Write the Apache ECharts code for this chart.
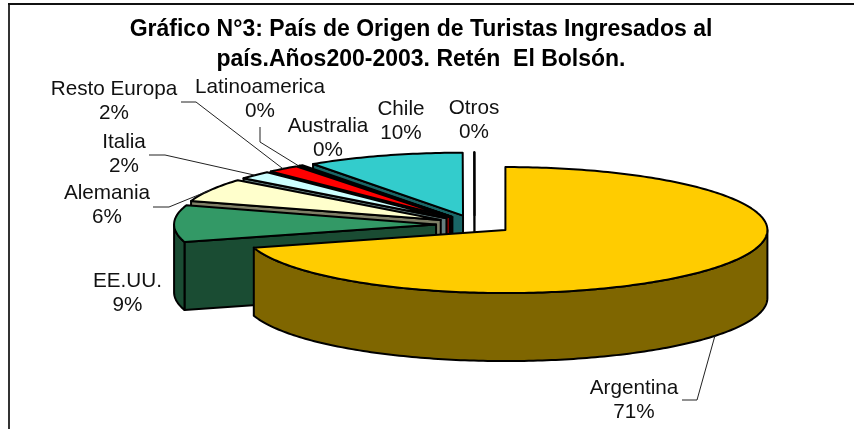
<!DOCTYPE html>
<html>
<head>
<meta charset="utf-8">
<style>html,body{margin:0;padding:0;background:#fff}#c{width:854px;height:429px}</style>
<script src="https://cdn.jsdelivr.net/npm/echarts@6/dist/echarts.min.js"></script>
</head>
<body>
<div id="c"></div>
<script>
const categories = ['Argentina','EE.UU.','Alemania','Italia','Resto Europa','Latinoamerica','Australia','Chile','Otros'];
const shares = [70.5, 9.4, 6.0, 2.1, 2.0, 0.1, 0.2, 9.68, 0.02];
const topColors = ['#FFCC00','#339966','#FFFFCC','#CCFFFF','#FF0000','#993366','#666699','#33CCCC','#FFFFFF'];
const wallColors = ['#7F6600','#1A4C33','#7F7F66','#667F7F','#7F0000','#4C1933','#33334C','#196666','#7F7F7F'];

// layout only: label centres and leader stubs, in page pixels
const labelCentres = [[634,400],[127.5,293],[107,205],[124,154],[114,101],[260,99.5],[328,138],[401,121],[474,120]];
const leaderStubs = [[[682,400],[697,400]],null,[[153,207],[169,207]],[[149,155],[165,155]],[[181,102],[196,102]],[[260,127],[260,142]],null,null,null];
const pie = {cx:474.6, cy:224.5, rx:262, ry:63, depth:68, explode:0.147};

const total = shares.reduce((a,b)=>a+b,0);
let run = 0;
const rows = shares.map((v,i)=>{ const a=run/total*360; run+=v; return [a, run/total*360, i]; });
const rad = d => d*Math.PI/180;

function frame(row){
  const mid = rad((row[0]+row[1])/2);
  const ax = pie.cx + pie.explode*pie.rx*Math.sin(mid);
  const ay = pie.cy - pie.explode*pie.ry*Math.cos(mid);
  return {ax, ay, at:d=>[ax+pie.rx*Math.sin(rad(d)), ay-pie.ry*Math.cos(rad(d))]};
}
function arc(f,from,to){
  const pts=[]; const n=Math.max(1,Math.ceil(Math.abs(to-from)));
  for(let k=0;k<=n;k++) pts.push(f.at(from+(to-from)*k/n));
  return pts;
}
const down = p => [p[0],p[1]+pie.depth];
const edge = {stroke:'#000', lineWidth:2, lineJoin:'round'};

function renderSlice(params, api){
  const a0=api.value(0), a1=api.value(1), i=api.value(2);
  const f=frame([a0,a1]);
  const kids=[];
  const poly=(points,fill)=>kids.push({type:'polygon',silent:true,shape:{points},style:Object.assign({fill},edge)});
  const apex=[f.ax,f.ay];
  // radial cut walls facing the viewer
  if(a0>180) { const r=f.at(a0); poly([apex,r,down(r),down(apex)],wallColors[i]); }
  if(a1<180) { const r=f.at(a1); poly([apex,r,down(r),down(apex)],wallColors[i]); }
  // outer rim wall on the front half
  const s=Math.max(a0,90), e=Math.min(a1,270);
  if(e>s){ const top=arc(f,s,e); poly(top.concat(top.map(down).reverse()),wallColors[i]); }
  // top face
  poly([apex].concat(arc(f,a0,a1)),topColors[i]);
  return {type:'group',children:kids};
}
function renderLabel(params, api){
  const a0=api.value(0), a1=api.value(1), i=api.value(2);
  const kids=[];
  const stub=leaderStubs[i];
  if(stub){
    const f=frame([a0,a1]); const m=(a0+a1)/2;
    let end=f.at(m);
    if(m>90&&m<270) end=down(end);
    kids.push({type:'polyline',silent:true,shape:{points:stub.concat([end])},style:{fill:null,stroke:'#222',lineWidth:1}});
  }
  kids.push({type:'text',silent:true,x:labelCentres[i][0],y:labelCentres[i][1],style:{
    text:categories[i]+'\n'+Math.round(shares[i])+'%',
    fontSize:20.7,fontFamily:'Liberation Sans',lineHeight:24,fill:'#111',align:'center',verticalAlign:'middle'}});
  return {type:'group',children:kids};
}

const chart = echarts.init(document.getElementById('c'),null,{renderer:'canvas'});
chart.setOption({
  animation:false,
  backgroundColor:'#fff',
  title:[
    {text:'Gráfico N°3: País de Origen de Turistas Ingresados al',left:416,top:13,textAlign:'center',textStyle:{fontFamily:'Liberation Sans',fontWeight:'bold',fontSize:23,color:'#000'}},
    {text:'país.Años200-2003. Retén  El Bolsón.',left:416,top:43,textAlign:'center',textStyle:{fontFamily:'Liberation Sans',fontWeight:'bold',fontSize:23,color:'#000'}}
  ],
  graphic:[
    {type:'line',silent:true,shape:{x1:9,y1:429,x2:9,y2:4},style:{stroke:'#333',lineWidth:2}},
    {type:'line',silent:true,shape:{x1:8,y1:4,x2:854,y2:4},style:{stroke:'#111',lineWidth:2}}
  ],
  series:[
    {type:'custom',coordinateSystem:'none',clip:false,z:2,renderItem:renderSlice,data:rows.slice().reverse()},
    {type:'custom',coordinateSystem:'none',clip:false,z:3,renderItem:renderLabel,data:rows}
  ]
});
</script>
</body>
</html>
